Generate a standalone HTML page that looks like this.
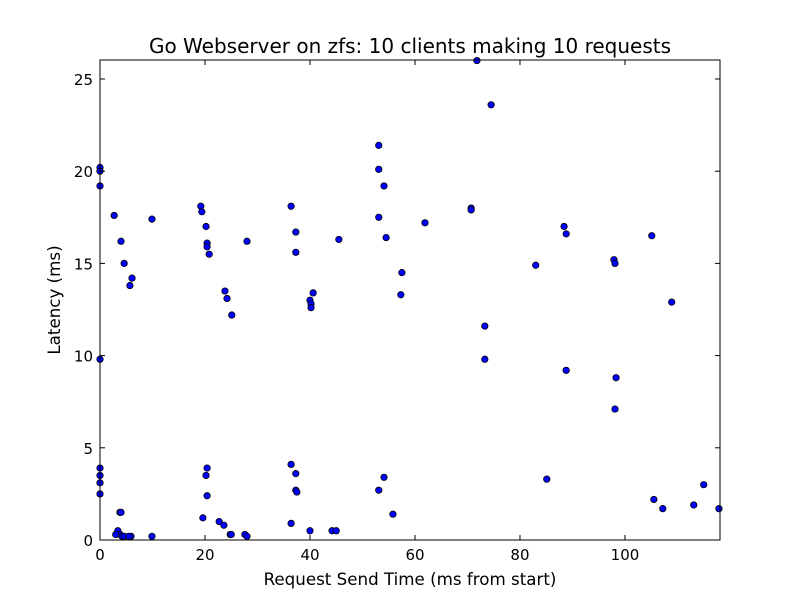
<!DOCTYPE html>
<html><head><meta charset="utf-8"><style>
html,body{margin:0;padding:0;background:#fff;}
svg{display:block;font-family:"DejaVu Sans","Liberation Sans",sans-serif;}
</style></head><body>
<svg id="chart" width="800" height="600"></svg>
<script>
const xs=[0,0,0,0,0,0,0,0,2.7,4.0,4.6,5.7,6.1,9.9,3.8,4.0,3.4,3.8,3.0,4.2,4.6,5.9,5.5,9.9,
19.2,19.4,20.2,20.4,20.4,20.8,23.8,24.2,25.1,28.0,20.4,20.2,20.4,19.6,22.7,23.6,24.8,25.0,27.6,28.0,
36.4,37.3,37.3,40.0,40.2,40.2,40.6,45.5,36.4,37.3,37.3,37.5,36.4,40.0,44.2,45.0,
53.1,53.1,54.1,53.1,54.5,57.5,57.3,61.9,53.1,54.1,55.8,
70.7,70.7,71.8,74.5,73.3,73.3,83.0,85.1,88.4,88.8,88.8,
97.9,98.1,98.1,98.3,105.1,108.9,105.5,107.2,113.1,115.0,117.9];
const ys=[20.2,20.0,19.2,9.8,3.9,3.5,3.1,2.5,17.6,16.2,15.0,13.8,14.2,17.4,1.5,1.5,0.5,0.3,0.3,0.2,0.2,0.2,0.2,0.2,
18.1,17.8,17.0,16.1,15.9,15.5,13.5,13.1,12.2,16.2,3.9,3.5,2.4,1.2,1.0,0.8,0.3,0.3,0.3,0.2,
18.1,16.7,15.6,13.0,12.8,12.6,13.4,16.3,4.1,3.6,2.7,2.6,0.9,0.5,0.5,0.5,
21.4,20.1,19.2,17.5,16.4,14.5,13.3,17.2,2.7,3.4,1.4,
18.0,17.9,26.0,23.6,11.6,9.8,14.9,3.3,17.0,16.6,9.2,
15.2,15.0,7.1,8.8,16.5,12.9,2.2,1.7,1.9,3.0,1.7];
const xTicks=[0,20,40,60,80,100];
const yTicks=[0,5,10,15,20,25];
const X0=100,X1=720,Y0=540,Y1=60,XMAX=118.1,YMAX=26.03;
const sx=v=>X0+v/XMAX*(X1-X0), sy=v=>Y0-v/YMAX*(Y0-Y1);
const NS="http://www.w3.org/2000/svg", svg=document.getElementById('chart');
function mk(t,a,p){const e=document.createElementNS(NS,t);for(const k in a)e.setAttribute(k,a[k]);(p||svg).appendChild(e);return e;}
const title=mk('text',{x:410,y:53,'text-anchor':'middle','font-size':20});title.textContent='Go Webserver on zfs: 10 clients making 10 requests';


const pts=mk('g',{});


for(let i=0;i<xs.length;i++){const c=mk('circle',{cx:sx(xs[i]),cy:sy(ys[i]),r:3.2,fill:'#0000ff',stroke:'#000','stroke-width':0.8},pts);

}
const frame=mk('rect',{x:X0,y:Y1,width:X1-X0,height:Y0-Y1,fill:'none',stroke:'#000','stroke-width':1});


xTicks.forEach(t=>{const x=sx(t);mk('line',{x1:x,x2:x,y1:Y0,y2:Y0-5,stroke:'#000'});mk('line',{x1:x,x2:x,y1:Y1,y2:Y1+5,stroke:'#000'});
const l=mk('text',{x:x,y:Y0+20,'text-anchor':'middle','font-size':15});l.textContent=t;

});
yTicks.forEach(t=>{const y=sy(t);mk('line',{x1:X0,x2:X0+5,y1:y,y2:y,stroke:'#000'});mk('line',{x1:X1,x2:X1-5,y1:y,y2:y,stroke:'#000'});
const l=mk('text',{x:X0-7,y:y+6,'text-anchor':'end','font-size':15});l.textContent=t;

});
const xt=mk('text',{x:410,y:585,'text-anchor':'middle','font-size':16.7});xt.textContent='Request Send Time (ms from start)';


const yt=mk('text',{x:60,y:300,'text-anchor':'middle','font-size':16.7,transform:'rotate(-90 60 300)'});yt.textContent='Latency (ms)';


</script>
</body></html>
